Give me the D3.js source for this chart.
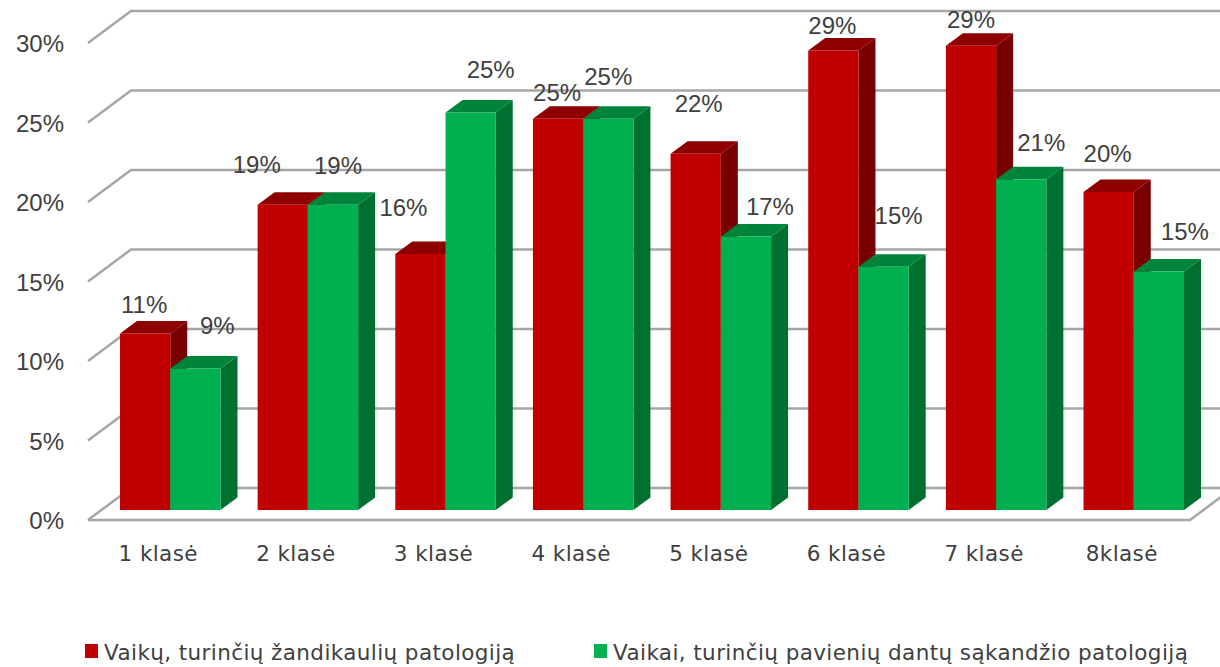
<!DOCTYPE html>
<html lang="lt">
<head>
<meta charset="UTF-8">
<title>Klasės</title>
<script src="https://d3js.org/d3.v7.min.js"></script>
<style>
  html, body { margin: 0; padding: 0; background: #fff; }
  svg { display: block; }
  text { font-family: "Liberation Sans", Arial, sans-serif; fill: #404040; }
  .wide { font-family: "DejaVu Sans", sans-serif; font-size: 21.5px; letter-spacing: 0.4px; }
</style>
</head>
<body>
<div id="plot"></div>
<script>
// values
var categories = ["1 klasė", "2 klasė", "3 klasė", "4 klasė", "5 klasė", "6 klasė", "7 klasė", "8klasė"];
var seriesNames = ["Vaikų, turinčių žandikaulių patologiją", "Vaikai, turinčių pavienių dantų sąkandžio patologiją"];
var redValues = [11.1, 19.2, 16.1, 24.6, 22.4, 28.9, 29.2, 20.0];
var greenValues = [8.9, 19.2, 25.0, 24.6, 17.2, 15.3, 20.8, 15.0];
var redLabels = ["11%", "19%", "16%", "25%", "22%", "29%", "29%", "20%"];
var greenLabels = ["9%", "19%", "25%", "25%", "17%", "15%", "21%", "15%"];
var yTicks = [0, 5, 10, 15, 20, 25, 30];

// label nudges relative to the bar top centre, the chart places these by hand
var redNudge = [[-1, -29], [-26, -40], [-17, -46], [-1, -26], [3, -50], [-1, -25], [0, -26], [-1, -38]];
var greenNudge = [[22, -43], [5, -39], [20, -43], [0, -42], [24, -30], [15, -51], [20, -37], [26, -40]];

var width = 1220, height = 667;
var depthX = 43, depthY = -32;     // floor depth
var barDX = 17, barDY = -12.5;     // bar depth
var baseLift = 10;                 // bars stand a bit behind the front edge

var svg = d3.select("#plot").append("svg").attr("width", width).attr("height", height);

var y = d3.scaleLinear().domain([0, 30]).range([520, 43]);
var x = d3.scaleBand().domain(categories).range([120, 1184]).paddingInner(0.27).paddingOuter(0);
var xs = d3.scaleBand().domain([0, 1]).range([0, x.bandwidth()]);

// gridlines with the left wall going back
var grid = svg.append("g").attr("fill", "none").attr("stroke", "#a6a6a6").attr("stroke-width", 2.5);
grid.selectAll("path.grid").data(yTicks).join("path")
    .attr("class", "grid")
    .attr("d", function (d) {
        return "M88," + y(d) + "L" + (88 + depthX) + "," + (y(d) + depthY) + "L" + width + "," + (y(d) + depthY);
    });
grid.append("path")
    .attr("d", "M88," + y(0) + "L1190," + y(0) + "L" + (1190 + depthX) + "," + (y(0) + depthY));

// y axis labels
var yAxis = svg.append("g").attr("transform", "translate(64,1)")
    .call(d3.axisLeft(y).tickValues(yTicks).tickSize(0).tickPadding(0).tickFormat(function (d) { return d + "%"; }));
yAxis.select(".domain").remove();
yAxis.selectAll("text").style("font-size", "24px").style("font-family", '"Liberation Sans", Arial, sans-serif').attr("fill", "#404040");

// bars
var colors = [
    { front: "#c00000", top: "#8e0000", side: "#790000" },
    { front: "#00b050", top: "#00843c", side: "#007030" }
];
var barBase = y(0) - baseLift;

var bars = [];
categories.forEach(function (c, i) {
    bars.push({ cat: c, v: redValues[i], s: 0 });
    bars.push({ cat: c, v: greenValues[i], s: 1 });
});

function barX(d) { return x(d.cat) + xs(d.s); }
function barTop(d) { return barBase - (y(0) - y(d.v)); }

var barG = svg.append("g").selectAll("g").data(bars).join("g");
barG.append("path")
    .attr("fill", function (d) { return colors[d.s].side; })
    .attr("d", function (d) {
        var r = barX(d) + xs.bandwidth(), t = barTop(d);
        return "M" + r + "," + t + "L" + (r + barDX) + "," + (t + barDY) + "L" + (r + barDX) + "," + (barBase + barDY) + "L" + r + "," + barBase + "Z";
    });
barG.append("path")
    .attr("fill", function (d) { return colors[d.s].top; })
    .attr("d", function (d) {
        var l = barX(d), r = l + xs.bandwidth(), t = barTop(d);
        return "M" + l + "," + t + "L" + (l + barDX) + "," + (t + barDY) + "L" + (r + barDX) + "," + (t + barDY) + "L" + r + "," + t + "Z";
    });
barG.append("rect")
    .attr("fill", function (d) { return colors[d.s].front; })
    .attr("x", barX)
    .attr("y", barTop)
    .attr("width", xs.bandwidth())
    .attr("height", function (d) { return barBase - barTop(d); });

// data labels
var labelG = svg.append("g").attr("text-anchor", "middle").style("font-size", "24px");
bars.forEach(function (d) {
    var i = categories.indexOf(d.cat);
    var nudge = d.s == 0 ? redNudge[i] : greenNudge[i];
    labelG.append("text")
        .attr("x", barX(d) + xs.bandwidth() / 2 + nudge[0])
        .attr("y", barTop(d) + nudge[1])
        .attr("dy", "0.35em")
        .text(d.s == 0 ? redLabels[i] : greenLabels[i]);
});

// category labels
svg.append("g").attr("text-anchor", "middle")
    .selectAll("text").data(categories).join("text")
    .attr("class", "wide")
    .attr("x", function (d) { return x(d) + x.bandwidth() / 2 - 12; })
    .attr("y", 553)
    .attr("dy", "0.35em")
    .text(function (d) { return d; });

// legend
var legendX = [85, 594];
var legend = svg.append("g").selectAll("g").data(seriesNames).join("g")
    .attr("transform", function (d, i) { return "translate(" + legendX[i] + ",644)"; });
legend.append("rect").attr("width", 13).attr("height", 14)
    .attr("fill", function (d, i) { return colors[i].front; });
legend.append("text").attr("x", 19).attr("y", 16)
    .attr("class", "wide")
    .text(function (d) { return d; });
</script>
</body>
</html>
